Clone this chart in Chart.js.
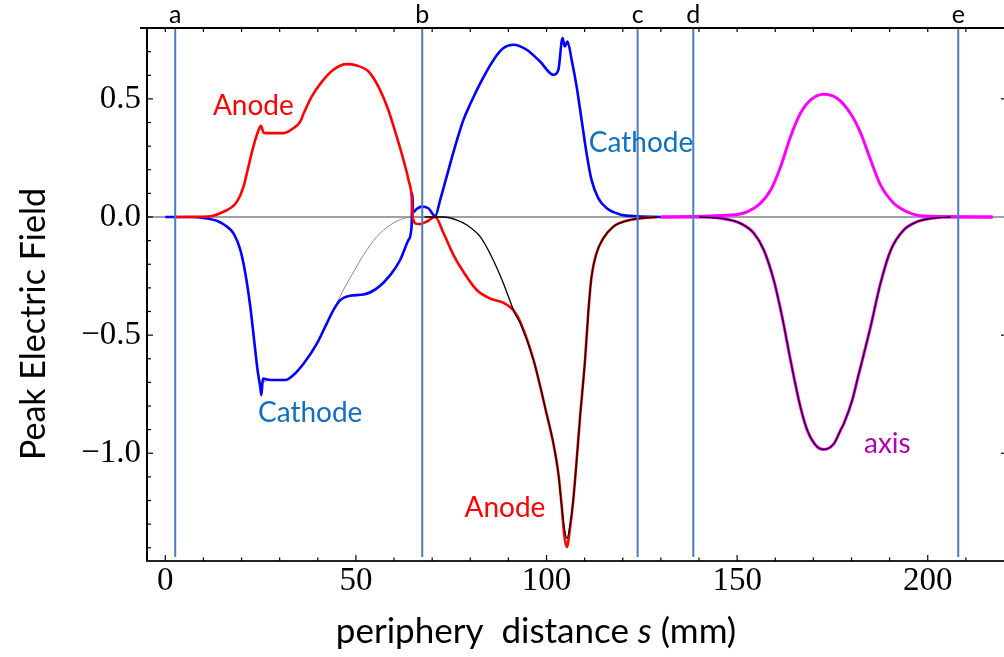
<!DOCTYPE html>
<html>
<head>
<meta charset="utf-8">
<script src="https://cdn.jsdelivr.net/npm/chart.js@4.4.1/dist/chart.umd.min.js"></script>
<style>
html,body{margin:0;padding:0;background:#fff;}
#wrap{width:1004px;height:657px;position:relative;}
</style>
</head>
<body>
<div id="wrap"><canvas id="c" width="1004" height="657"></canvas></div>
<script>
// ---- data (s in mm, peak electric field) ----
const anodeS = [2.5, 8, 11.8, 14.4, 17, 18.8, 20.5, 21.8, 23.1, 24.5, 25.1, 25.8, 27.5, 31, 33.6, 35.4, 36.3, 38.4, 41.1, 44.1, 47.6, 50.2, 53.3, 55.9, 58.5, 60.7, 62.5, 63.8, 64.7, 64.9, 65.1, 65.5, 66.8, 68.5, 70.8, 73, 75.6, 78.2, 81.7, 85.2, 88.7, 91.3, 93.1, 96.6, 100, 101.8, 103.1, 104, 104.6, 105.3, 106.2, 107, 107.9, 108.8, 110.1, 111, 111.8, 113.1, 114.9, 117.5, 121, 124.5, 129];
const anodeE = [0, 0.001, 0.003, 0.016, 0.037, 0.065, 0.128, 0.213, 0.298, 0.369, 0.386, 0.357, 0.355, 0.355, 0.376, 0.404, 0.439, 0.51, 0.573, 0.623, 0.647, 0.641, 0.616, 0.552, 0.453, 0.34, 0.24, 0.157, 0.072, 0.0, -0.013, -0.027, -0.03, -0.02, 0, -0.069, -0.161, -0.232, -0.309, -0.345, -0.363, -0.394, -0.443, -0.606, -0.832, -0.959, -1.086, -1.227, -1.34, -1.397, -1.312, -1.2, -1.03, -0.846, -0.606, -0.394, -0.253, -0.154, -0.09, -0.041, -0.016, -0.006, 0];

const cathS = [0, 5.9, 10.9, 13.5, 16.2, 17.9, 19.7, 21, 22.3, 23.3, 24.2, 24.9, 25.2, 25.6, 27.5, 31.5, 33.6, 36.3, 39.8, 42.4, 44.1, 45.9, 48.5, 52, 55.5, 59, 61.6, 63.8, 64.6, 64.8, 65, 66, 67.3, 69, 70.8, 72.1, 73.8, 76, 78.2, 79.9, 82.6, 86.1, 88.7, 91.3, 94.8, 98.3, 101.8, 103.1, 104.2, 104.8, 105.5, 106.6, 107.9, 109.2, 110.5, 111.8, 113.6, 115.8, 119.3, 122.8, 130];
const cathE = [0, 0, -0.006, -0.016, -0.041, -0.069, -0.14, -0.239, -0.38, -0.521, -0.648, -0.719, -0.754, -0.684, -0.69, -0.69, -0.669, -0.62, -0.535, -0.449, -0.394, -0.352, -0.333, -0.328, -0.302, -0.246, -0.182, -0.097, -0.04, 0.1, 0.02, 0.035, 0.044, 0.037, 0.004, 0.072, 0.171, 0.298, 0.411, 0.475, 0.566, 0.665, 0.715, 0.729, 0.708, 0.658, 0.602, 0.623, 0.757, 0.722, 0.743, 0.665, 0.552, 0.411, 0.27, 0.157, 0.079, 0.037, 0.011, 0.004, 0];

const cathThS = [8, 10.9, 13.5, 16.2, 17.9, 19.7, 21, 22.3, 23.3, 24.2, 25, 27.5, 31.5, 33.6, 36.3, 39.8, 42.4, 44.1, 46.7, 49.4, 52, 55.5, 59, 62.5, 66, 71];
const cathThE = [0, -0.006, -0.016, -0.041, -0.069, -0.14, -0.239, -0.38, -0.521, -0.648, -0.7, -0.69, -0.69, -0.669, -0.62, -0.535, -0.449, -0.394, -0.309, -0.232, -0.161, -0.083, -0.034, -0.006, 0, 0];

const anodeThS = [68, 73, 76.5, 79.1, 82.6, 85.6, 88.7, 91.7, 93.1, 96.6, 100, 101.8, 103.1, 104, 104.8, 105.4, 106.2, 107, 107.9, 108.8, 110.1, 111, 111.8, 113.1, 114.9, 117.5, 121, 124.5, 129];
const anodeThE = [0, 0, -0.013, -0.034, -0.083, -0.168, -0.281, -0.408, -0.45, -0.606, -0.832, -0.959, -1.086, -1.227, -1.33, -1.36, -1.3, -1.2, -1.03, -0.846, -0.606, -0.394, -0.253, -0.154, -0.09, -0.041, -0.016, -0.006, 0];

const axisThS = [140, 146, 150.9, 154.4, 157, 159.6, 161.8, 164, 166.6, 168.4, 171, 172.7, 175.4, 177.1, 178, 180.2, 181.5, 185, 187.6, 190.3, 193.7, 197.2, 200.7, 206];
const axisThE = [0, -0.006, -0.027, -0.069, -0.14, -0.267, -0.422, -0.606, -0.804, -0.903, -0.973, -0.984, -0.959, -0.903, -0.874, -0.775, -0.691, -0.465, -0.281, -0.14, -0.055, -0.02, -0.006, 0];

const axisDownS = [130, 140, 146, 150.9, 154.4, 157, 159.6, 161.8, 164, 166.6, 168.4, 171, 172.7, 175.4, 177.1, 178, 180.2, 181.5, 185, 187.6, 190.3, 193.7, 197.2, 200.7, 206, 217];
const axisDownE = [0, 0, -0.006, -0.027, -0.069, -0.14, -0.267, -0.422, -0.606, -0.804, -0.903, -0.973, -0.984, -0.959, -0.903, -0.874, -0.775, -0.691, -0.465, -0.281, -0.14, -0.055, -0.02, -0.006, 0, 0];

const axisUpS = [130, 148.3, 152.6, 156.1, 158.8, 161.4, 164, 166.6, 169.3, 172.7, 176.2, 179.7, 182.4, 185, 187.6, 191.1, 194.6, 199, 217];
const axisUpE = [0, 0.008, 0.022, 0.058, 0.114, 0.213, 0.34, 0.439, 0.496, 0.52, 0.503, 0.439, 0.355, 0.242, 0.136, 0.058, 0.022, 0.004, 0];

// boundary markers
const markerS = [2.6, 67.4, 123.9, 138.5, 208];
const markerLabels = ['a', 'b', 'c', 'd', 'e'];

// curve annotations (text, s, E at baseline)
const annoText = ['Anode', 'Cathode', 'Cathode', 'Anode', 'axis'];
const annoS = [23.1, 38.0, 124.8, 89.1, 189.4];
const annoE = [0.432, -0.869, 0.275, -1.271, -1.0];
const annoColor = ['#ff0000', '#1070c0', '#1070c0', '#ff0000', '#b000b0'];

// axis ranges / ticks
const xMin = -4.8, xMax = 220, xStep = 50, xMinor = 10;
const yMin = -1.456, yMax = 0.80, yStep = 0.5, yMinor = 0.1;

const pts = (s, e) => s.map((v, i) => ({x: v, y: e[i]}));
const line = (data, color, width) => ({
  data, borderColor: color, borderWidth: width, pointRadius: 0, fill: false,
  cubicInterpolationMode: 'monotone', parsing: false
});

const decor = {
  id: 'decor',
  beforeDatasetsDraw(chart) {
    const {ctx, chartArea: a, scales: {y}} = chart;
    ctx.save();
    ctx.strokeStyle = '#444';
    ctx.lineWidth = 1.2;
    const y0 = y.getPixelForValue(0);
    ctx.beginPath(); ctx.moveTo(a.left, y0); ctx.lineTo(a.right, y0); ctx.stroke();
    ctx.restore();
  },
  afterDatasetsDraw(chart) {
    const {ctx, chartArea: a, scales: {x, y}} = chart;
    ctx.save();
    // marker lines
    ctx.strokeStyle = '#4a7dbb';
    ctx.lineWidth = 2;
    markerS.forEach(s => {
      const px = x.getPixelForValue(s);
      ctx.beginPath(); ctx.moveTo(px, a.top); ctx.lineTo(px, a.bottom - 4); ctx.stroke();
    });
    // axes frame
    ctx.strokeStyle = '#000';
    ctx.lineWidth = 2;
    ctx.beginPath(); ctx.moveTo(a.left - 7, a.top); ctx.lineTo(a.right, a.top); ctx.stroke();
    ctx.beginPath(); ctx.moveTo(a.left, a.top); ctx.lineTo(a.left, a.bottom); ctx.stroke();
    ctx.strokeStyle = '#222';
    ctx.beginPath(); ctx.moveTo(a.left - 1, a.bottom); ctx.lineTo(a.right, a.bottom); ctx.stroke();
    // inward ticks
    ctx.lineWidth = 1.2;
    ctx.strokeStyle = '#000';
    const seg = (x1, y1, x2, y2) => { ctx.beginPath(); ctx.moveTo(x1, y1); ctx.lineTo(x2, y2); ctx.stroke(); };
    for (let k = 0; k * xMinor <= xMax - 5; k++) {
      const v = k * xMinor, px = x.getPixelForValue(v);
      const major = (v % xStep) === 0;
      seg(px, a.bottom, px, a.bottom - (major ? 6 : 3.5));
      seg(px, a.top, px, a.top + 4);
    }
    for (let k = Math.ceil(yMin / yMinor); k * yMinor <= yMax - 0.05; k++) {
      const v = k * yMinor, py = y.getPixelForValue(v);
      const major = (k % 5) === 0;
      seg(a.left, py, a.left + (major ? 6 : 4), py);
      if (major && k !== 0) seg(a.right, py, a.right - 3, py);
    }
    // marker labels
    ctx.fillStyle = '#000';
    ctx.font = '25px Lato';
    ctx.textAlign = 'center';
    ctx.textBaseline = 'alphabetic';
    markerS.forEach((s, i) => ctx.fillText(markerLabels[i], x.getPixelForValue(s), a.top - 5));
    // curve annotations
    ctx.font = '28px Lato';
    annoText.forEach((t, i) => {
      ctx.fillStyle = annoColor[i];
      ctx.fillText(t, x.getPixelForValue(annoS[i]), y.getPixelForValue(annoE[i]));
    });
    // y title
    ctx.fillStyle = '#000';
    ctx.save();
    ctx.translate(45, 324);
    ctx.rotate(-Math.PI / 2);
    ctx.font = '34px Lato';
    ctx.textAlign = 'center';
    ctx.fillText('Peak Electric Field', 0, 0);
    ctx.restore();
    // x title with italic s
    const p1 = 'periphery  distance ', p2 = 's', p3 = ' (mm)';
    const fs = 35;
    ctx.font = fs + 'px Lato';
    const w1 = ctx.measureText(p1).width, w3 = ctx.measureText(p3).width;
    ctx.font = 'italic ' + fs + 'px Lato';
    const w2 = ctx.measureText(p2).width;
    let cx = 536 - (w1 + w2 + w3) / 2;
    const by = 643;
    ctx.textAlign = 'left';
    ctx.font = fs + 'px Lato';
    ctx.fillText(p1, cx, by); cx += w1;
    ctx.font = 'italic ' + fs + 'px Lato';
    ctx.fillText(p2, cx, by); cx += w2;
    ctx.font = fs + 'px Lato';
    ctx.fillText(p3, cx, by);
    ctx.restore();
  }
};

const fmtY = v => (v < -1e-9 ? '\u2212' : '') + Math.abs(v).toFixed(1);

new Chart(document.getElementById('c'), {
  type: 'line',
  data: {
    datasets: [
      line(pts(anodeThS, anodeThE), '#000000', 1.3),
      line(pts(axisThS, axisThE), '#000000', 1.3),
      line(pts(axisDownS, axisDownE), '#ff00ff', 3),
      line(pts(axisUpS, axisUpE), '#ff00ff', 3),
      line(pts(anodeS, anodeE), '#ff0000', 2.6),
      line(pts(cathS, cathE), '#0000ff', 2.6),
      line(pts(cathThS, cathThE), '#8a8a8a', 1)
    ]
  },
  options: {
    responsive: false,
    devicePixelRatio: 1,
    animation: false,
    layout: {padding: {top: 28, right: 0, left: 0, bottom: 0}},
    plugins: {legend: {display: false}, tooltip: {enabled: false}},
    scales: {
      x: {
        type: 'linear', min: xMin, max: xMax,
        grid: {display: false, drawTicks: false},
        border: {display: false},
        ticks: {stepSize: xStep, includeBounds: false, maxRotation: 0, autoSkip: false,
          padding: 1, color: '#000', font: {family: 'Liberation Serif', size: 33}},
        afterFit: s => { s.height = 96; }
      },
      y: {
        type: 'linear', min: yMin, max: yMax,
        grid: {display: false, drawTicks: false},
        border: {display: false},
        ticks: {stepSize: yStep, includeBounds: false, padding: 6, color: '#000',
          font: {family: 'Liberation Serif', size: 33}, callback: fmtY},
        afterFit: s => { s.width = 147; }
      }
    }
  },
  plugins: [decor]
});
</script>
</body>
</html>
